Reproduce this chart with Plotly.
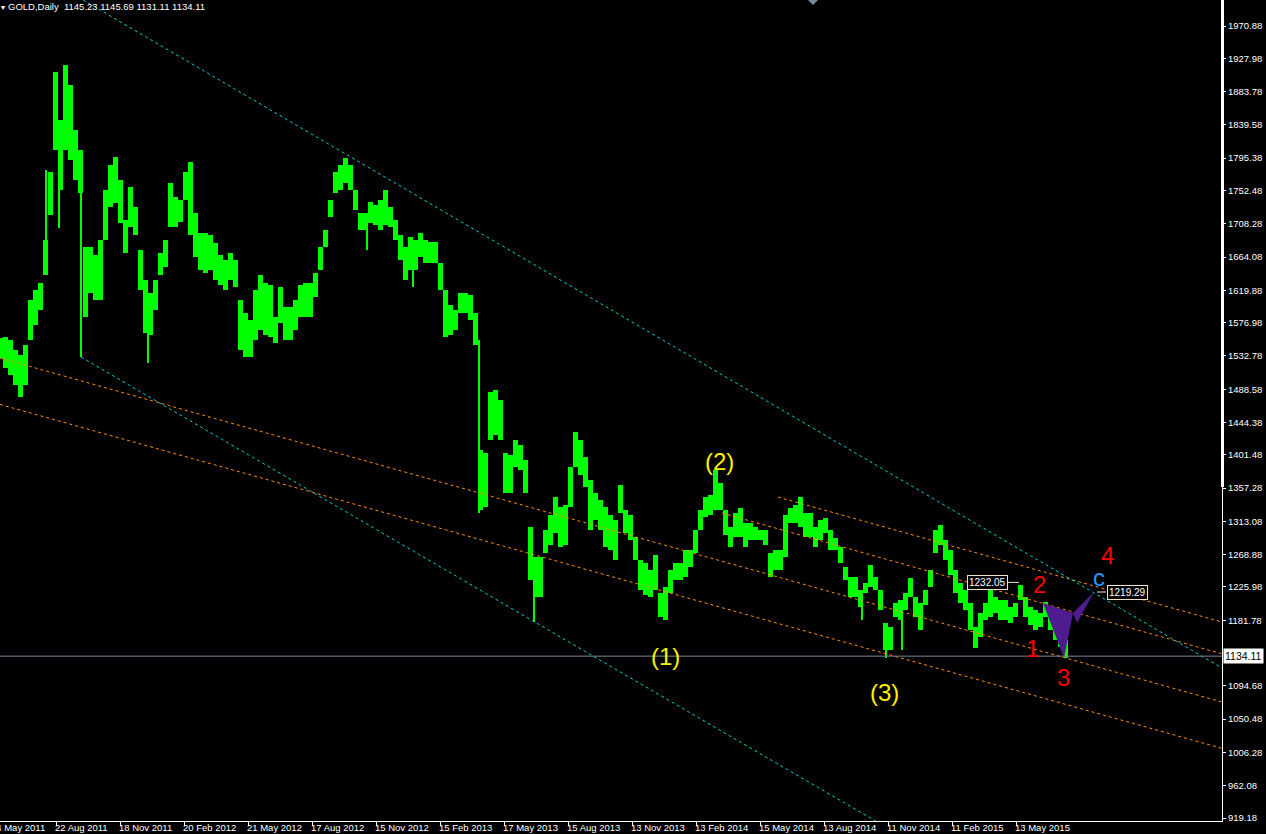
import plotly.graph_objects as go

# ---------------- data ----------------
bar_index = list(range(0, 1066, 5))          # bar number (1 bar per pixel column in the original)

bar_high = [
    1556.6, 1557.9, 1553.9, 1540.6, 1534.0, 1547.3, 1607.0, 1620.3, 1629.6, 1686.7,
    1777.0, 1909.8, 1846.1, 1919.1, 1892.5, 1832.8, 1806.2, 1677.4, 1677.4, 1666.8,
    1686.7, 1753.1, 1786.3, 1796.9, 1766.4, 1713.3, 1757.1, 1730.5, 1673.4, 1633.6,
    1616.3, 1633.6, 1669.4, 1686.7, 1762.4, 1743.8, 1739.8, 1777.0, 1790.3, 1722.6,
    1696.0, 1696.0, 1693.3, 1682.7, 1666.8, 1660.1, 1669.4, 1660.1, 1607.0, 1589.8,
    1580.5, 1620.3, 1640.2, 1629.6, 1626.9, 1584.5, 1624.3, 1597.7, 1597.7, 1607.0,
    1626.9, 1629.6, 1629.6, 1642.9, 1677.4, 1700.0, 1739.8, 1777.0, 1786.3, 1795.6,
    1786.3, 1753.1, 1722.6, 1722.6, 1737.2, 1733.2, 1739.8, 1753.1, 1730.5, 1713.3,
    1693.3, 1677.4, 1690.7, 1686.7, 1696.0, 1686.7, 1684.0, 1684.0, 1656.2, 1620.3,
    1600.4, 1593.8, 1616.3, 1616.3, 1613.7, 1589.8, 1407.9, 1403.9, 1484.9, 1487.5,
    1474.2, 1403.9, 1401.2, 1421.1, 1414.5, 1394.6, 1305.6, 1265.8, 1265.8, 1301.6,
    1321.5, 1345.4, 1332.2, 1334.8, 1385.3, 1431.7, 1421.1, 1398.5, 1368.0, 1350.7,
    1341.4, 1332.2, 1321.5, 1314.9, 1361.4, 1328.2, 1321.5, 1292.3, 1261.8, 1257.8,
    1248.5, 1268.4, 1218.0, 1225.9, 1248.5, 1257.8, 1257.8, 1275.1, 1275.1, 1301.6,
    1328.2, 1345.4, 1348.1, 1381.3, 1364.0, 1328.2, 1305.6, 1324.2, 1330.8, 1310.9,
    1310.9, 1305.6, 1301.6, 1301.6, 1271.1, 1275.1, 1275.1, 1321.5, 1330.8, 1334.8,
    1345.4, 1324.2, 1324.2, 1305.6, 1314.9, 1317.5, 1301.6, 1291.0, 1279.0, 1252.5,
    1239.2, 1239.2, 1221.9, 1231.2, 1255.1, 1239.2, 1221.9, 1178.1, 1172.8, 1204.7,
    1208.7, 1218.0, 1237.9, 1212.6, 1204.7, 1221.9, 1248.5, 1301.6, 1308.3, 1288.3,
    1275.1, 1248.5, 1231.2, 1221.9, 1204.7, 1172.8, 1191.4, 1204.7, 1221.9, 1212.6,
    1208.7, 1208.7, 1199.4, 1204.7, 1228.6, 1212.6, 1199.4, 1195.4, 1191.4, 1206.0,
    1195.4, 1172.8, 1164.8, 1155.5,
]

bar_low = [
    1530.0, 1516.7, 1507.4, 1494.2, 1478.2, 1494.2, 1553.9, 1573.8, 1593.8, 1640.2,
    1719.9, 1806.2, 1753.1, 1806.2, 1792.9, 1766.4, 1749.1, 1584.5, 1616.3, 1607.0,
    1607.0, 1686.7, 1730.5, 1735.8, 1709.3, 1669.4, 1704.0, 1693.3, 1620.3, 1563.2,
    1560.6, 1593.8, 1640.2, 1650.8, 1704.0, 1704.0, 1710.6, 1739.8, 1693.3, 1664.1,
    1646.9, 1642.9, 1646.9, 1633.6, 1626.9, 1620.3, 1633.6, 1624.3, 1540.6, 1531.3,
    1531.3, 1553.9, 1567.2, 1560.6, 1557.9, 1549.9, 1576.5, 1553.9, 1553.9, 1567.2,
    1584.5, 1584.5, 1584.5, 1611.0, 1646.9, 1677.4, 1717.2, 1749.1, 1753.1, 1762.4,
    1753.1, 1726.5, 1700.0, 1700.0, 1709.3, 1706.6, 1700.0, 1706.6, 1704.0, 1686.7,
    1660.1, 1633.6, 1646.9, 1646.9, 1664.1, 1656.2, 1656.2, 1656.2, 1620.3, 1557.9,
    1560.6, 1567.2, 1589.8, 1589.8, 1580.5, 1547.3, 1328.2, 1332.2, 1421.1, 1427.8,
    1421.1, 1350.7, 1350.7, 1385.3, 1381.3, 1350.7, 1235.2, 1212.6, 1212.6, 1271.1,
    1281.7, 1297.6, 1279.0, 1281.7, 1332.2, 1385.3, 1374.7, 1358.7, 1301.6, 1314.9,
    1301.6, 1279.0, 1275.1, 1261.8, 1324.2, 1297.6, 1288.3, 1261.8, 1221.9, 1215.3,
    1212.6, 1221.9, 1186.1, 1182.1, 1218.0, 1235.2, 1235.2, 1239.2, 1252.5, 1271.1,
    1301.6, 1318.9, 1321.5, 1328.2, 1328.2, 1295.0, 1279.0, 1292.3, 1292.3, 1279.0,
    1288.3, 1288.3, 1288.3, 1281.7, 1239.2, 1248.5, 1248.5, 1265.8, 1310.9, 1310.9,
    1305.6, 1292.3, 1292.3, 1279.0, 1288.3, 1297.6, 1275.1, 1275.1, 1257.8, 1235.2,
    1212.6, 1212.6, 1199.4, 1218.0, 1225.9, 1221.9, 1195.4, 1142.3, 1142.3, 1186.1,
    1182.1, 1195.4, 1212.6, 1186.1, 1168.8, 1202.0, 1225.9, 1271.1, 1281.7, 1261.8,
    1241.9, 1218.0, 1204.7, 1195.4, 1168.8, 1144.9, 1159.5, 1182.1, 1186.1, 1191.4,
    1182.1, 1182.1, 1178.1, 1186.1, 1208.7, 1186.1, 1175.5, 1168.8, 1172.8, 1186.1,
    1168.8, 1155.5, 1146.2, 1131.6,
]

# single-day spikes (bar, high, low)
wick_bar = [46, 59, 81, 148, 367, 413, 479, 534, 862, 886, 902]
wick_high = [1779.7, 1753.1, 1753.1, 1567.2, 1700.0, 1646.9, 1553.9, 1212.6, 1202.0, 1155.5, 1188.8]
wick_low = [1680.1, 1702.6, 1531.3, 1523.4, 1673.4, 1624.3, 1324.2, 1179.4, 1182.1, 1131.6, 1142.3]

# price scale
price_ticks = [1970.88, 1927.98, 1883.78, 1839.58, 1795.38, 1752.48, 1708.28, 1664.08,
               1619.88, 1576.98, 1532.78, 1488.58, 1444.38, 1401.48, 1357.28, 1313.08,
               1268.88, 1225.98, 1181.78, 1094.68, 1050.48, 1006.28, 962.08, 919.18]
price_top = 2005.41
price_bottom = 915.20

# time scale
date_tick_bars = [-8, 56, 120, 184, 248, 312, 376, 440, 504, 568, 632, 696, 760, 824, 888, 952, 1016]
date_tick_labels = ["24 May 2011", "22 Aug 2011", "18 Nov 2011", "20 Feb 2012", "21 May 2012",
                    "17 Aug 2012", "15 Nov 2012", "15 Feb 2013", "17 May 2013", "15 Aug 2013",
                    "13 Nov 2013", "13 Feb 2014", "15 May 2014", "13 Aug 2014", "11 Nov 2014",
                    "11 Feb 2015", "13 May 2015"]
bar_span = [0, 1222]

symbol = "GOLD,Daily"
last_ohlc = [1145.23, 1145.69, 1131.11, 1134.11]
last_price = 1134.11

# trend lines (bar, price)
cyan_upper_bars, cyan_upper_prices = [83, 1222], [2005.4, 1118.4]
cyan_lower_bars, cyan_lower_prices = [81, 900], [1531.3, 896.2]
orange_a_bars, orange_a_prices = [0, 1222], [1530.0, 1073.2]
orange_b_bars, orange_b_prices = [0, 1222], [1468.4, 1011.6]
orange_d_bars, orange_d_prices = [778, 1222], [1345.4, 1179.4]
orange_e_bars, orange_e_prices = [722, 1222], [1324.2, 1137.2]

# harmonic pattern (two triangles)
pattern1_bars, pattern1_prices = [1043, 1064, 1073, 1043], [1204.7, 1131.6, 1191.4, 1204.7]
pattern2_bars, pattern2_prices = [1073, 1094, 1077, 1073], [1191.4, 1219.29, 1178.1, 1191.4]

# wave labels (text, bar, price)
wave_yellow = [("(2)", 719, 1393.2), ("(1)", 665, 1134.3), ("(3)", 884, 1086.5)]
wave_red = [("1", 1032, 1144.9), ("2", 1039, 1228.6), ("3", 1063, 1106.4), ("4", 1107, 1268.4)]
wave_blue = [("c", 1099, 1239.2)]

# price tags (value, label bar, connector bars)
price_tags = [(1232.05, 987, [1008, 1019]), (1219.29, 1127, [1097, 1106])]

# ---------------- styling ----------------
FONT = "Liberation Sans, Arial, sans-serif"
W, H = 1266, 834
ML, MR, MT, MB = 0, 44, 0, 13
PW = W - ML - MR
PH = H - MT - MB

fig = go.Figure()

fig.add_trace(go.Bar(
    x=bar_index, y=[h - l for h, l in zip(bar_high, bar_low)], base=bar_low,
    width=5, marker=dict(color="#00FF00", line=dict(width=0)), hoverinfo="skip"))
fig.add_trace(go.Bar(
    x=wick_bar, y=[h - l for h, l in zip(wick_high, wick_low)], base=wick_low,
    width=1.2, marker=dict(color="#00FF00", line=dict(width=0)), hoverinfo="skip"))

def line(xs, ys, color, dash="dot", width=1):
    fig.add_trace(go.Scatter(x=xs, y=ys, mode="lines", hoverinfo="skip",
                             line=dict(color=color, width=width, dash=dash)))

CYAN = "#00CED1"
ORANGE = "#FF8C00"
line(orange_a_bars, orange_a_prices, ORANGE)
line(orange_b_bars, orange_b_prices, ORANGE)
line(orange_d_bars, orange_d_prices, ORANGE)
line(orange_e_bars, orange_e_prices, ORANGE)
line(cyan_upper_bars, cyan_upper_prices, CYAN)
line(cyan_lower_bars, cyan_lower_prices, CYAN)
line(bar_span, [last_price, last_price], "#778899", dash="solid")

for xs, ys in [(pattern1_bars, pattern1_prices), (pattern2_bars, pattern2_prices)]:
    fig.add_trace(go.Scatter(x=xs, y=ys, mode="lines", fill="toself",
                             fillcolor="#4E1C90", line=dict(width=0, color="#4E1C90"),
                             hoverinfo="skip"))

ann = []
for txt, bx, pr in wave_yellow:
    ann.append(dict(x=bx, y=pr, xref="x", yref="y", text=txt, showarrow=False,
                    font=dict(family=FONT, size=24, color="#FFF000")))
for txt, bx, pr in wave_red:
    ann.append(dict(x=bx, y=pr, xref="x", yref="y", text=txt, showarrow=False,
                    font=dict(family=FONT, size=24, color="#FF0000")))
for txt, bx, pr in wave_blue:
    ann.append(dict(x=bx, y=pr, xref="x", yref="y", text=txt, showarrow=False,
                    font=dict(family=FONT, size=24, color="#1E9BFF")))

shapes = []
for val, bx, conn in price_tags:
    ann.append(dict(x=bx, y=val, xref="x", yref="y", text=f"{val:.2f}", showarrow=False,
                    font=dict(family=FONT, size=10, color="white"), bgcolor="black",
                    bordercolor="#F2E2C4", borderwidth=1, borderpad=1))
    shapes.append(dict(type="line", xref="x", yref="y", x0=conn[0], x1=conn[1], y0=val, y1=val,
                       line=dict(color="#F2E2C4", width=1)))

# date labels, left-aligned at each tick as in the terminal
for b, lab in zip(date_tick_bars, date_tick_labels):
    ann.append(dict(x=(b - 2) / PW, y=0, xref="paper", yref="paper", xanchor="left", yanchor="top",
                    text=lab, showarrow=False, borderpad=0,
                    font=dict(family=FONT, size=9.5, color="white")))

# current price tag on the scale
ann.append(dict(x=1, y=last_price, xref="paper", yref="y", xanchor="left", xshift=1,
                text=f"{last_price:.2f}", showarrow=False, bgcolor="white", borderpad=1,
                font=dict(family=FONT, size=10.5, color="black")))

# header
header = symbol + "&nbsp;&nbsp;" + " ".join(f"{v:.2f}" for v in last_ohlc)
ann.append(dict(x=7 / PW, y=1, xref="paper", yref="paper", xanchor="left", yanchor="top",
                yshift=0, text=header, showarrow=False, borderpad=0,
                font=dict(family=FONT, size=9.5, color="white")))
ann.append(dict(x=0, y=1, xref="paper", yref="paper", xanchor="left", yanchor="top",
                yshift=-2, text="▾", showarrow=False, borderpad=0,
                font=dict(family=FONT, size=8, color="white")))

# small marker at top and thick scale border segment
shapes.append(dict(type="path", xref="paper", yref="paper",
                   path=f"M {808/PW} 1 L {818/PW} 1 L {813/PW} {1-5/PH} Z",
                   fillcolor="#7A8A9C", line=dict(width=0)))
shapes.append(dict(type="rect", xref="paper", yref="paper", x0=1221 / PW, x1=1224 / PW,
                   y0=1 - 487 / PH, y1=1, fillcolor="white", line=dict(width=0)))

fig.update_layout(
    width=W, height=H,
    margin=dict(l=ML, r=MR, t=MT, b=MB, pad=0),
    paper_bgcolor="black", plot_bgcolor="black",
    showlegend=False, barmode="overlay", bargap=0,
    annotations=ann, shapes=shapes,
    xaxis=dict(range=bar_span, showgrid=False, zeroline=False, showline=True,
               linecolor="white", linewidth=1, ticks="outside", ticklen=4, tickcolor="white",
               tickvals=date_tick_bars, showticklabels=False, fixedrange=True),
    yaxis=dict(range=[price_bottom, price_top], side="right", showgrid=False, zeroline=False,
               showline=True, linecolor="white", linewidth=1, ticks="outside", ticklen=3,
               tickcolor="white", tickvals=price_ticks,
               ticktext=[f"{p:.2f}" for p in price_ticks],
               tickfont=dict(family=FONT, size=9.5, color="white"), fixedrange=True),
)

fig.write_html("out.html", config={"displayModeBar": False},
               post_script="document.body.style.margin='0px';document.body.style.overflow='hidden';document.body.style.background='black';")
